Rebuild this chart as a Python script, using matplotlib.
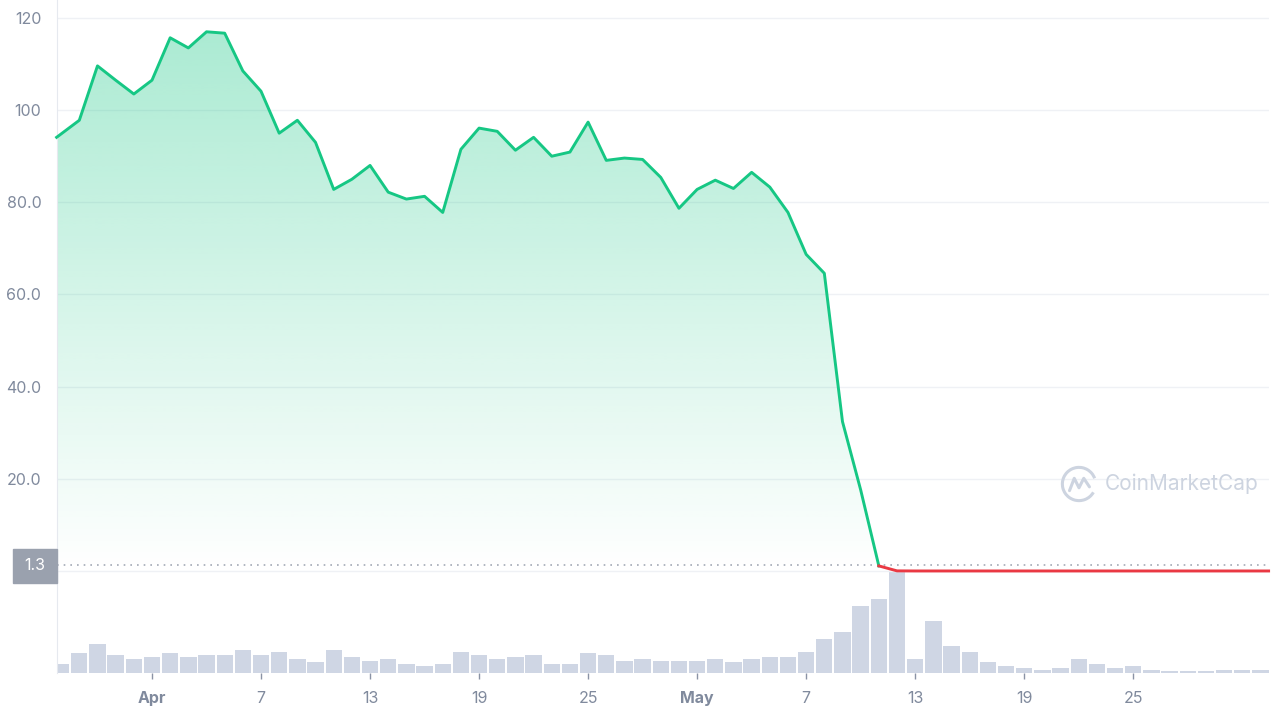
import numpy as np
import pandas as pd
import matplotlib
matplotlib.use("Agg")
import matplotlib.pyplot as plt
from matplotlib.patches import Rectangle, Arc

plt.rcParams['font.family'] = ['Inter', 'DejaVu Sans']

# ---------------- data ----------------
price_times = (["2022-03-26 18:00"]
               + [d.strftime("%Y-%m-%d") for d in pd.date_range("2022-03-28", "2022-06-01", freq="D")]
               + ["2022-06-01 10:48"])
price = [94.1, 97.8, 109.6, 106.5, 103.5, 106.5, 115.7, 113.5, 117.0, 116.7,
         108.5, 104.1, 95.0, 97.8, 93.0, 82.8, 85.0, 88.0, 82.2, 80.7,
         81.3, 77.8, 91.5, 96.1, 95.4, 91.3, 94.1, 90.0, 90.9, 97.4,
         89.1, 89.6, 89.3, 85.4, 78.7, 82.8, 84.8, 83.0, 86.5, 83.3,
         77.8, 68.7, 64.6, 32.4, 17.6, 1.1, 0.02, 0.0002, 0.0002, 0.0002,
         0.0002, 0.0002, 0.0001, 0.0001, 0.0001, 0.0001, 0.0001, 0.0001, 0.0001, 0.0001,
         0.0001, 0.0001, 0.0001, 0.0001, 0.0001, 0.0001, 0.0001, 0.0001]
volume_dates = pd.date_range("2022-03-27", "2022-06-01", freq="D")
volume = [0.9, 2.0, 2.9, 1.8, 1.4, 1.6, 2.0, 1.6, 1.8, 1.8,
          2.3, 1.8, 2.1, 1.4, 1.1, 2.3, 1.6, 1.2, 1.4, 0.9,
          0.7, 0.9, 2.1, 1.8, 1.4, 1.6, 1.8, 0.9, 0.9, 2.0,
          1.8, 1.2, 1.4, 1.2, 1.2, 1.2, 1.4, 1.1, 1.4, 1.6,
          1.6, 2.1, 3.4, 4.1, 6.7, 7.4, 10.1, 1.4, 5.2, 2.7,
          2.1, 1.1, 0.7, 0.5, 0.3, 0.5, 1.4, 0.9, 0.5, 0.7,
          0.3, 0.2, 0.2, 0.2, 0.3, 0.3, 0.3]
current_price = 1.3
tick_dates = ["2022-04-01", "2022-04-07", "2022-04-13", "2022-04-19", "2022-04-25",
              "2022-05-01", "2022-05-07", "2022-05-13", "2022-05-19", "2022-05-25"]
tick_labels = ["Apr", "7", "13", "19", "25", "May", "7", "13", "19", "25"]
y_ticks = [0, 20, 40, 60, 80, 100, 120]
y_labels = ["", "20.0", "40.0", "60.0", "80.0", "100", "120"]

# ---------------- geometry ----------------
origin = pd.Timestamp("2022-04-01")
def to_days(ts):
    return (pd.Timestamp(ts) - origin) / pd.Timedelta(days=1)

x = np.array([to_days(t) for t in price_times], dtype=float)
p = np.array(price)
xv = np.array([to_days(t) for t in volume_dates], dtype=float)
v = np.array(volume)
tx = [to_days(d) for d in tick_dates]

GREEN = "#16c784"
RED = "#ea3943"
GREY = "#808a9d"

fig = plt.figure(figsize=(12.8, 7.2), dpi=100)
fig.patch.set_facecolor("white")
W_PX, H_PX = 1280, 720
left_px, right_px = 56.6, 1268.6
L = left_px / W_PX
W = (right_px - left_px) / W_PX
xlim = (x[0], x[-1])

# volume axes (below)
axv = fig.add_axes([L, (H_PX - 673) / H_PX, W, 101 / H_PX])
axv.bar(xv, v, width=0.9, color="#cfd6e4", zorder=2)
axv.set_xlim(*xlim)
axv.set_ylim(0, v.max())
for s in ["top", "right", "bottom"]:
    axv.spines[s].set_visible(False)
axv.spines["left"].set_color("#e6e9ef")
axv.set_yticks([])
axv.set_xticks(tx)
axv.set_xticklabels(tick_labels)
axv.tick_params(axis="x", length=4, width=1, color="#8a93a5", pad=9,
                labelsize=11.5, labelcolor=GREY)
for lab in axv.get_xticklabels():
    if lab.get_text() in ("Apr", "May"):
        lab.set_fontweight("bold")
axv.patch.set_alpha(0)

# price axes
ax = fig.add_axes([L, (H_PX - 580) / H_PX, W, 580 / H_PX])
ax.patch.set_alpha(0)
ylo, yhi = -1.96, 123.9

split = int(np.where(np.isclose(x, 40))[0][0])
xg, pg = x[:split + 1], p[:split + 1]
xr, pr = x[split:], p[split:]

poly = ax.fill_between(xg, pg, 0, color="none", lw=0)
grad = np.zeros((256, 1, 4))
grad[..., :3] = matplotlib.colors.to_rgb(GREEN)
grad[:, 0, 3] = np.linspace(0.36, 0.0, 256)
im = ax.imshow(grad, extent=[xg.min(), xg.max(), 0, pg.max()], aspect="auto",
               origin="upper", zorder=1, interpolation="bilinear")
im.set_clip_path(poly.get_paths()[0], transform=ax.transData)

ax.plot(xg, pg, color=GREEN, lw=2.1, zorder=4, solid_joinstyle="round", clip_on=False)
ax.plot(xr, pr, color=RED, lw=2.1, zorder=4, solid_joinstyle="round", clip_on=False)
ax.axhline(current_price, color="#a3a9b5", lw=1.2, ls=(0, (1, 3)), zorder=3)

ax.set_xlim(*xlim)
ax.set_ylim(ylo, yhi)
ax.set_yticks(y_ticks)
ax.set_yticklabels(y_labels)
ax.tick_params(axis="y", length=0, pad=11, labelsize=11.5, labelcolor=GREY)
ax.set_xticks([])
ax.grid(axis="y", color="#eff1f5", lw=1)
ax.set_axisbelow(True)
for s in ["top", "right", "bottom"]:
    ax.spines[s].set_visible(False)
ax.spines["left"].set_color("#e6e9ef")

# current price label box
fig.patches.append(Rectangle((13 / W_PX, (H_PX - 583) / H_PX), 44 / W_PX, 34 / H_PX,
                             transform=fig.transFigure, color="#9aa1ae", zorder=5))
fig.text(35 / W_PX, 1 - 566 / H_PX, "1.3", color="white", fontsize=11.5,
         ha="center", va="center", zorder=6)

# watermark
fig.text(1105 / W_PX, 1 - 484 / H_PX, "CoinMarketCap", color="#cdd4e0",
         fontsize=15, va="center", ha="left")
axl = fig.add_axes([1060 / W_PX, (H_PX - 503) / H_PX, 38 / W_PX, 38 / H_PX])
axl.set_xlim(-1, 1)
axl.set_ylim(-1, 1)
axl.axis("off")
axl.add_patch(Arc((0, 0), 1.75, 1.75, theta1=20, theta2=330, color="#cdd4e0", lw=2.2))
axl.plot([-0.5, -0.25, 0.0, 0.25, 0.55], [-0.35, 0.3, -0.2, 0.3, -0.15],
         color="#cdd4e0", lw=2.2, solid_joinstyle="round", solid_capstyle="round")

fig.savefig("out.png", dpi=100)
